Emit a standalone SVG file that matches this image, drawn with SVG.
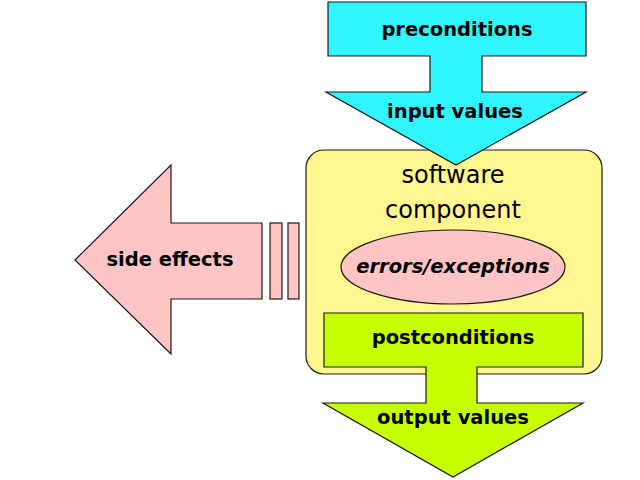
<svg xmlns="http://www.w3.org/2000/svg" width="640" height="480" viewBox="0 0 640 480">
<style>
.s{stroke:#1a1a1a;stroke-width:1.2;stroke-linejoin:miter}
.b{font-family:"DejaVu Sans",sans-serif;font-weight:bold;font-size:19.5px;fill:#000;text-anchor:middle}
.n{font-family:"DejaVu Sans",sans-serif;font-size:24px;fill:#000;text-anchor:middle}
</style>
<rect width="640" height="480" fill="#fff"/>
<g id="component">
<rect class="s" x="306" y="150" width="296" height="224" rx="18" fill="#fff68f"/>
<text class="n" x="453" y="183">software</text>
<text class="n" x="453" y="218">component</text>
</g>
<g id="errors">
<ellipse class="s" cx="453" cy="267" rx="112" ry="37" fill="#ffc4c4"/>
<text class="b" x="453" y="273" font-style="italic">errors/exceptions</text>
</g>
<g id="connectors">
<g id="input">
<path class="s" d="M328,2 H586 V56 H482 V92 H586 L456,165 L326,92 H430 V56 H328 Z" fill="#30f5ff"/>
<text class="b" x="457" y="36">preconditions</text>
<text class="b" x="455" y="118">input values</text>
</g>
<g id="output">
<path class="s" d="M324,313 H583 V367 H477 V403 H583 L453,477 L323,403 H426 V367 H324 Z" fill="#c8ff00"/>
<text class="b" x="453" y="344">postconditions</text>
<text class="b" x="453" y="424">output values</text>
</g>
<g id="side-effects">
<path class="s" d="M75,260 L171,165 V223 H262 V299 H171 V354 Z" fill="#ffc4c4"/>
<rect class="s" x="270" y="223" width="12" height="76" fill="#ffc4c4"/>
<rect class="s" x="288" y="223" width="11" height="76" fill="#ffc4c4"/>
<text class="b" x="170" y="266">side effects</text>
</g>
</g>
</svg>
